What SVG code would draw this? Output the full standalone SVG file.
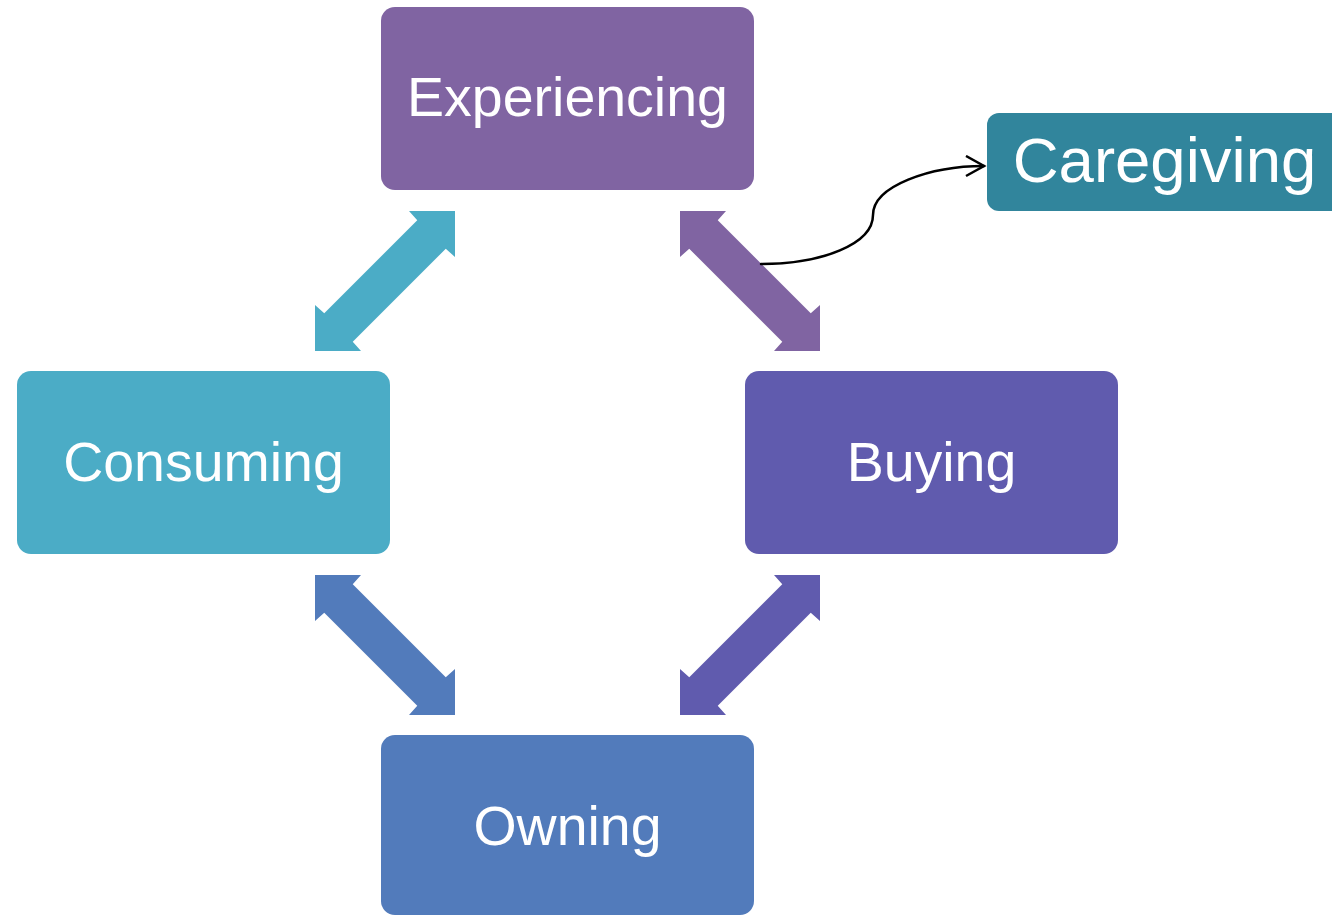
<svg xmlns="http://www.w3.org/2000/svg" xmlns:xlink="http://www.w3.org/1999/xlink" width="1332" height="917" viewBox="0 0 1332 917">
  <style>
    .label { font-family: "Liberation Sans", Arial, sans-serif; fill: #ffffff; text-anchor: middle; font-size: 55.5px; }
    .big { font-size: 63.5px; }
    .curve { fill: none; stroke: #000000; stroke-width: 2.5; stroke-linecap: round; stroke-linejoin: round; }
  </style>
  <defs>
    <!-- double-headed block arrow, centred on the origin, running bottom-left to top-right -->
    <polygon id="dblArrow" points="70,-70 70,-24 60.75,-32.25 -32.25,60.75 -24,70 -70,70 -70,24 -60.75,32.25 32.25,-60.75 24,-70"/>
    <marker id="openHead" markerWidth="22" markerHeight="24" refX="19" refY="11" orient="auto" markerUnits="userSpaceOnUse">
      <path d="M1,1 L19,11 L1,21" fill="none" stroke="#000000" stroke-width="2.5" stroke-linejoin="miter"/>
    </marker>
  </defs>

  <rect width="1332" height="917" fill="#ffffff"/>

  <g id="connectors">
    <use xlink:href="#dblArrow" href="#dblArrow" transform="translate(385,281)" fill="#4BACC6"/>
    <use xlink:href="#dblArrow" href="#dblArrow" transform="translate(750,281) scale(-1,1)" fill="#8064A2"/>
    <use xlink:href="#dblArrow" href="#dblArrow" transform="translate(385,645) scale(-1,1)" fill="#527BBB"/>
    <use xlink:href="#dblArrow" href="#dblArrow" transform="translate(750,645)" fill="#605BAE"/>
    <path class="curve" d="M761,264 C822,264 873,244 873,215 C873,186 930,166 984,166" marker-end="url(#openHead)"/>
  </g>

  <g id="experiencing">
    <rect x="381" y="7" width="373" height="183" rx="14" fill="#8064A2"/>
    <text class="label" x="567.5" y="116">Experiencing</text>
  </g>

  <g id="caregiving">
    <rect x="987" y="113" width="360" height="98" rx="12" fill="#31859C"/>
    <text class="label big" x="1164.5" y="182">Caregiving</text>
  </g>

  <g id="consuming">
    <rect x="17" y="371" width="373" height="183" rx="14" fill="#4BACC6"/>
    <text class="label" x="203.5" y="481">Consuming</text>
  </g>

  <g id="buying">
    <rect x="745" y="371" width="373" height="183" rx="14" fill="#605BAE"/>
    <text class="label" x="931.5" y="481">Buying</text>
  </g>

  <g id="owning">
    <rect x="381" y="735" width="373" height="180" rx="14" fill="#527BBB"/>
    <text class="label" x="567.5" y="845">Owning</text>
  </g>
</svg>
